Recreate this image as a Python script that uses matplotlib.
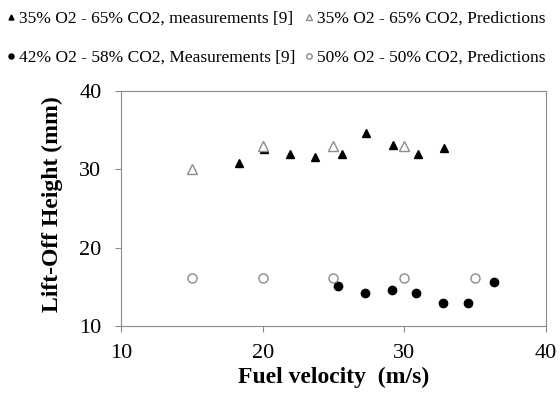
import numpy as np
from matplotlib import pyplot as plt

plt.rcParams['font.family'] = ['Liberation Serif', 'DejaVu Serif']

# 35% O2 - 65% CO2 measurements
meas35_v = [18.3, 20.1, 21.9, 23.7, 25.6, 27.3, 29.2, 31.0, 32.8]
meas35_h = [30.8, 32.6, 32.0, 31.6, 31.9, 34.6, 33.1, 31.9, 32.7]

# 35% O2 - 65% CO2 predictions
pred35_v = [15, 20, 25, 30]
pred35_h = [30.0, 33.0, 33.0, 33.0]

# 42% O2 - 58% CO2 measurements
meas42_v = [25.3, 27.2, 29.1, 30.8, 32.7, 34.5, 36.3]
meas42_h = [15.1, 14.2, 14.6, 14.2, 12.9, 12.9, 15.6]

# 50% O2 - 50% CO2 predictions
pred50_v = [15, 20, 25, 30, 35]
pred50_h = [16.1, 16.1, 16.1, 16.1, 16.1]

fig = plt.figure(figsize=(5.6, 3.99), dpi=100)
ax = fig.add_axes([0.216, 0.183, 0.759, 0.589])

grey = '#8c8c8c'
h1, = ax.plot(meas35_v, meas35_h, '^', color='black', markersize=6, linestyle='none',
              label='35% O2 - 65% CO2, measurements [9]')
h3, = ax.plot(pred35_v, pred35_h, '^', markerfacecolor='white', markeredgecolor=grey,
              markersize=6.5, linestyle='none', label='35% O2 - 65% CO2, Predictions')
h2, = ax.plot(meas42_v, meas42_h, 'o', color='black', markersize=6, linestyle='none',
              label='42% O2 - 58% CO2, Measurements [9]')
h4, = ax.plot(pred50_v, pred50_h, 'o', markerfacecolor='white', markeredgecolor=grey,
              markersize=6.5, linestyle='none', label='50% O2 - 50% CO2, Predictions')

ax.set_xlim(10, 40)
ax.set_ylim(10, 40)
ax.set_xticks([10, 20, 30, 40])
ax.set_yticks([10, 20, 30, 40])
for s in ax.spines.values():
    s.set_color(grey)
ax.tick_params(colors=grey, labelcolor='black', labelsize=16, length=4)
ax.tick_params(axis='x', pad=9)
ax.tick_params(axis='y', pad=10)
ax.set_xlabel('Fuel velocity  (m/s)', fontsize=17, fontweight='bold', labelpad=3)
ax.set_ylabel('Lift-Off Height (mm)', fontsize=17, fontweight='bold')
ax.yaxis.set_label_coords(-0.137, 0.52)

fig.legend(handles=[h1, h2, h3, h4], ncol=2, loc='upper left', bbox_to_anchor=(-0.02, 1.012),
           frameon=False, fontsize=12.5, handletextpad=0.05, handlelength=0.8,
           columnspacing=0.4, labelspacing=1.3, markerscale=0.6)

fig.savefig('out.png', dpi=100)
